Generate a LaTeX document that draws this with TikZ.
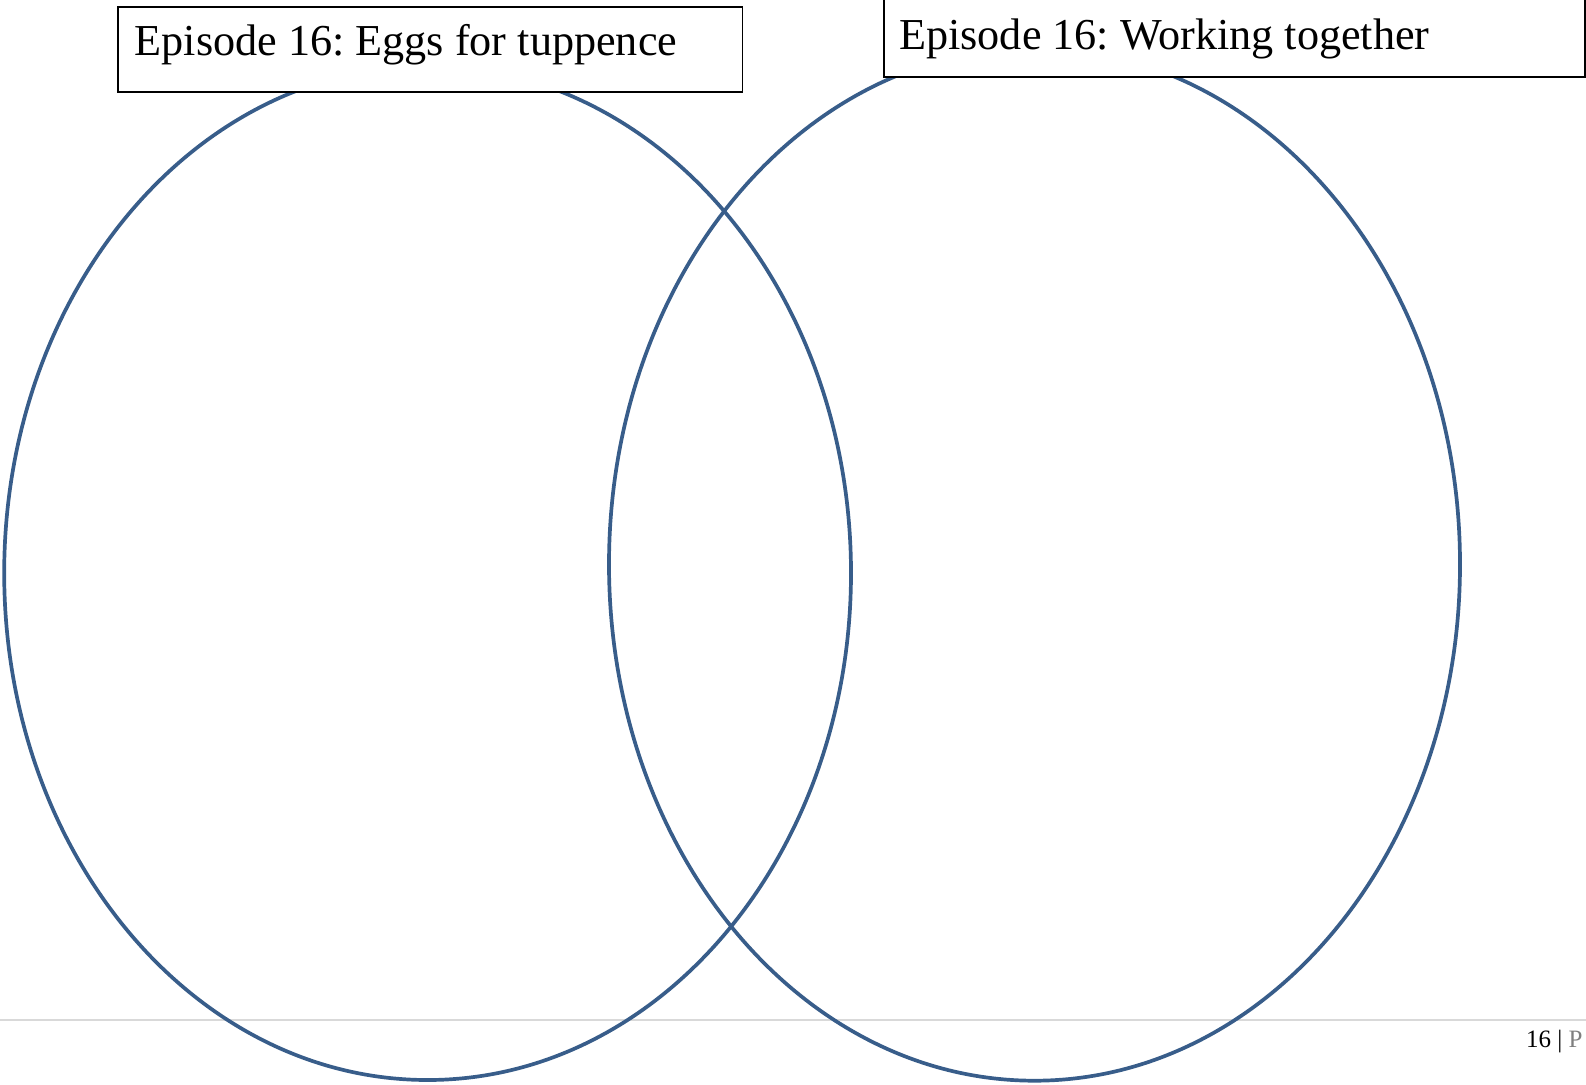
\documentclass[tikz,border=0pt]{standalone}
\usepackage{fontspec}
\setmainfont{Liberation Serif}
\frenchspacing
\usetikzlibrary{shapes.geometric}
\definecolor{vennblue}{HTML}{385D8A}
\definecolor{footline}{HTML}{D9D9D9}
\definecolor{footgray}{HTML}{7F7F7F}
\tikzset{
  vennset/.style={shape=ellipse, draw=vennblue, line width=3.7pt, inner sep=0pt, outer sep=0pt},
  epbox/.style={rectangle, draw=black, fill=white, line width=1.5pt, inner sep=0pt, anchor=north west},
  eplabel/.style={inner sep=0pt, anchor=base west, font=\fontsize{44.2}{50}\selectfont},
  footnum/.style={inner sep=0pt, anchor=base west, font=\fontsize{25}{30}\selectfont}
}
\begin{document}
\begin{tikzpicture}[x=1pt,y=-1pt]
\useasboundingbox (0,0) rectangle (1586,1084);
\clip (0,0) rectangle (1586,1084);
% footer rule
\coordinate (ruleL) at (0,1020);
\coordinate (ruleR) at (1586,1020);
\draw[footline, line width=1.6pt] (ruleL) -- (ruleR);
% Venn sets
\node[vennset, minimum width=846.8pt, minimum height=1014pt] (setA) at (427.6,573) {};
\node[vennset, minimum width=851pt, minimum height=1032.6pt] (setB) at (1034.5,564.4) {};
% title boxes
\node[epbox, minimum width=624.5pt, minimum height=85pt] (boxA) at (117,6) {};
\node[eplabel] (labA) at (134.5,55.6) {Episode 16: Eggs for tuppence};
\node[epbox, minimum width=701pt, minimum height=86pt] (boxB) at (883,-10) {};
\node[eplabel] (labB) at (899,49.6) {Episode 16: Working together};
% page number
\node[footnum] (pnum) at (1526,1047) {16 | {\color{footgray}P}};
\end{tikzpicture}
\end{document}
